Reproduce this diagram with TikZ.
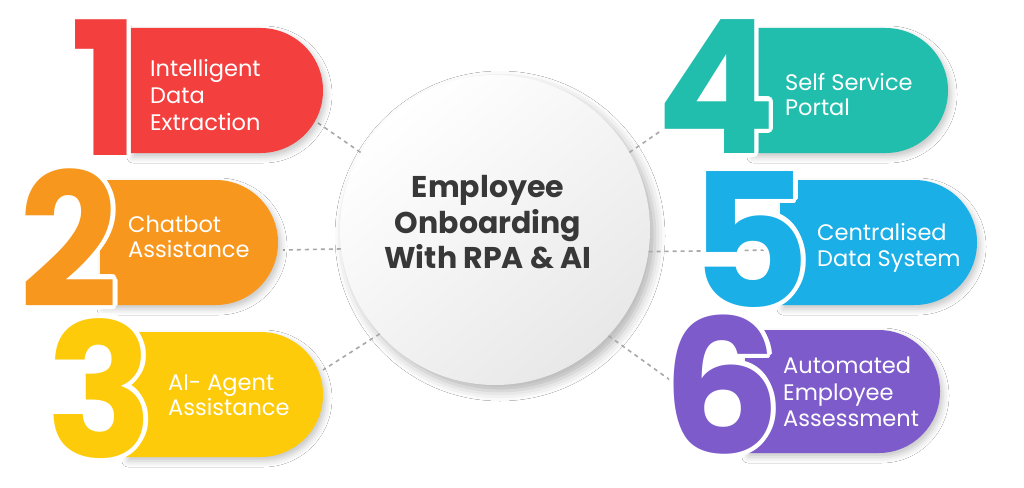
\documentclass[tikz,border=0pt]{standalone}
\usepackage{fontspec}
\setmainfont{Poppins}
\usetikzlibrary{shapes.misc,shadows.blur,calc}
\definecolor{cred}{HTML}{F43F3F}
\definecolor{corange}{HTML}{F8971D}
\definecolor{cyellow}{HTML}{FDCB0A}
\definecolor{cteal}{HTML}{21BEAE}
\definecolor{cblue}{HTML}{1AAFE6}
\definecolor{cpurple}{HTML}{7E5BCB}
\definecolor{ctitle}{HTML}{383838}
\definecolor{cdash}{HTML}{A8A8A8}
% digit with a white outline: white copies around it, then the coloured digit
\newcommand\halodigit[2]{%
  \makebox[0pt][l]{\color{white}\foreach \ang in {0,22.5,...,337.5}{\pgfmathsetmacro\dx{4.5*cos(\ang)}\pgfmathsetmacro\dy{4.5*sin(\ang)}\makebox[0pt][l]{\hspace*{\dx pt}\raisebox{\dy pt}{#2}}}}%
  {\color{#1}#2}}
\tikzset{
  pill/.style={rounded rectangle, rounded rectangle left arc=none, minimum height=125pt, inner sep=0pt, fill=#1,
    blur shadow={shadow xshift=3pt, shadow yshift=-4pt, shadow blur radius=6pt, shadow opacity=22}},
  digit/.style={anchor=base, inner sep=0pt, font=\bfseries\fontsize{186}{186}\selectfont},
  lbl/.style={anchor=base west, inner sep=0pt, text=white, font=\fontsize{22.5}{22.5}\selectfont},
  ttl/.style={anchor=base, inner sep=0pt, text=ctitle, font=\bfseries\fontsize{30}{30}\selectfont},
  conn/.style={draw=cdash, line width=1.6pt, dash pattern=on 4pt off 4pt},
}
\begin{document}
\begin{tikzpicture}[x=1pt, y=-1pt]
\fill[white] (0,0) rectangle (1024,487);
\useasboundingbox (0,0) rectangle (1024,487);
% central circle
\node[circle, minimum size=310pt, inner sep=0pt, shading=axis, top color=white, bottom color=black!9, shading angle=40,
  blur shadow={shadow xshift=5pt, shadow yshift=-6pt, shadow blur radius=10pt, shadow opacity=30}] (c) at (495,230) {};
\node[ttl] (t1) at (488,197) {Employee};
\node[ttl] (t2) at (488,233) {Onboarding};
\node[ttl] (t3) at (488,268) {With RPA \& AI};
% connector ends
\coordinate (e1) at (318,123);
\coordinate (e2) at (283,250);
\coordinate (e3) at (323,370);
\coordinate (e4) at (665,128);
\coordinate (e5) at (775,250);
\coordinate (e6) at (677,385);
\draw[conn] (c.150) -- (e1);
\draw[conn] (c.187.4) -- (e2);
\draw[conn] (c.222) -- (e3);
\draw[conn] (c.30) -- (e4);
\draw[conn] (c.352.6) -- (e5);
\draw[conn] (c.317.5) -- (e6);
% pills
\node[pill=cred, minimum width=193pt] (p1) at (226.5,90.5) {};
\node[pill=corange, minimum width=178pt] (p2) at (189,242.5) {};
\node[pill=cyellow, minimum width=198pt] (p3) at (224,394.5) {};
\node[pill=cteal, minimum width=198pt] (p4) at (849,90.5) {};
\node[pill=cblue, minimum width=197pt] (p5) at (878.5,242.5) {};
\node[pill=cpurple, minimum width=195pt, minimum height=123pt] (p6) at (842.5,391.5) {};
% digits
\node[digit] (d1) at (105,155) {\halodigit{cred}{1}};
\node[digit] (d2) at (69,307) {\halodigit{corange}{\scalebox{0.93}[1]{2}}};
\node[digit] (d3) at (100,457) {\halodigit{cyellow}{\scalebox{0.95}[1]{3}}};
\node[digit] (d4) at (716,153) {\halodigit{cteal}{\scalebox{0.95}[1]{4}}};
\node[digit] (d5) at (750,307) {\halodigit{cblue}{5}};
\node[digit] (d6) at (722,453) {\halodigit{cpurple}{6}};
% labels
\node[lbl] (l1a) at (150,77) {Intelligent};
\node[lbl] (l1b) at (150,103.5) {Data};
\node[lbl] (l1c) at (150,130) {Extraction};
\node[lbl] (l2a) at (128,232) {Chatbot};
\node[lbl] (l2b) at (128,257) {Assistance};
\node[lbl] (l3a) at (168,390) {AI- Agent};
\node[lbl] (l3b) at (168,415) {Assistance};
\node[lbl] (l4a) at (785,90) {Self Service};
\node[lbl] (l4b) at (785,115) {Portal};
\node[lbl] (l5a) at (817,240) {Centralised};
\node[lbl] (l5b) at (817,266) {Data System};
\node[lbl] (l6a) at (783,373) {Automated};
\node[lbl] (l6b) at (783,400) {Employee};
\node[lbl] (l6c) at (783,426) {Assessment};
\end{tikzpicture}
\end{document}
